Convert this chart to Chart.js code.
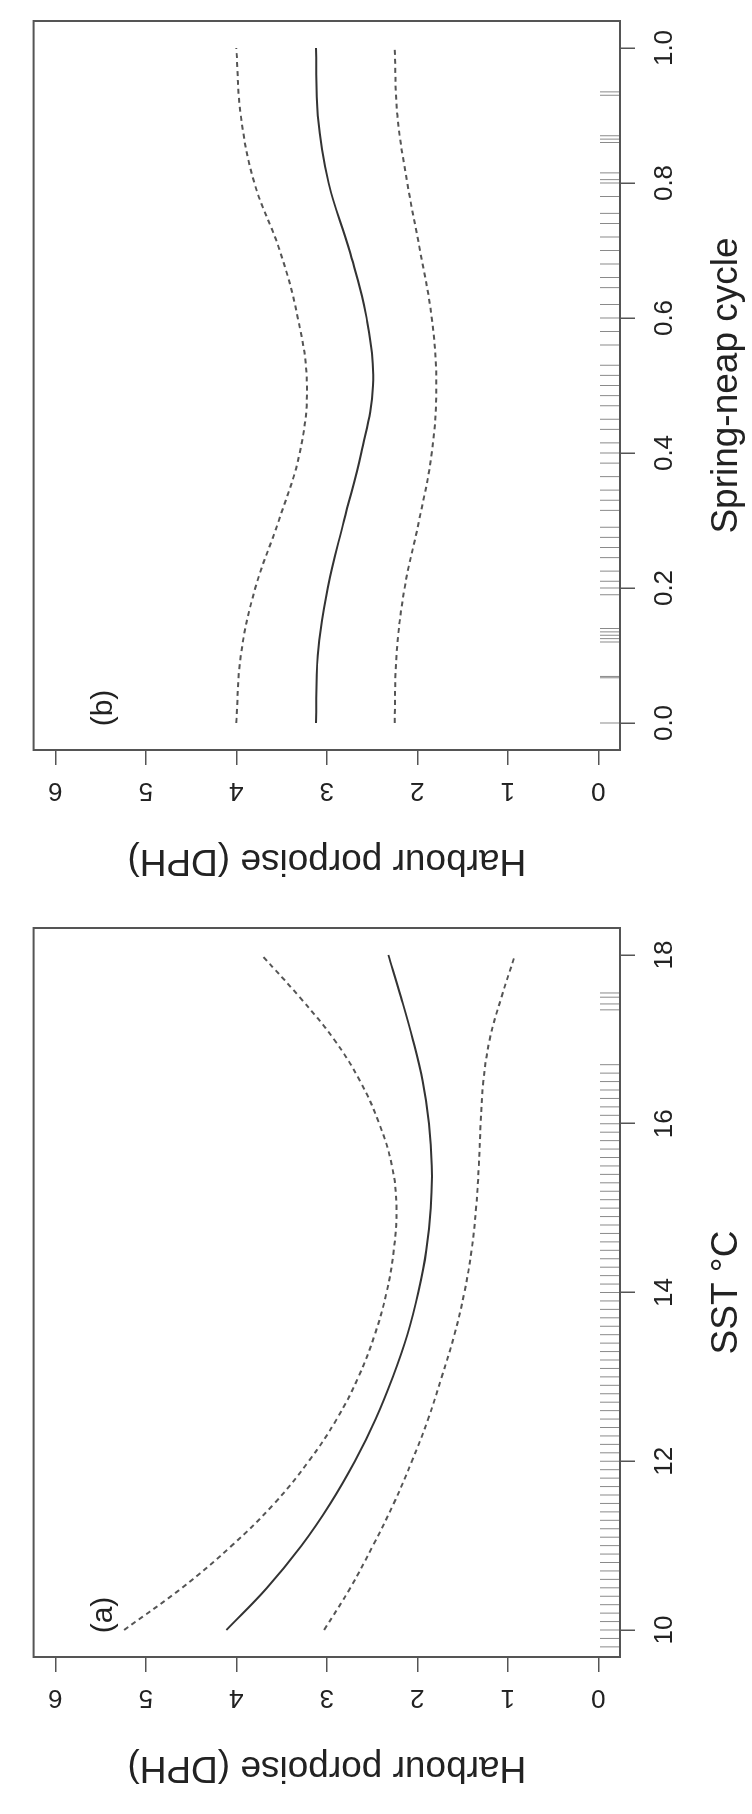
<!DOCTYPE html>
<html>
<head>
<meta charset="utf-8">
<script src="https://cdn.jsdelivr.net/npm/chart.js@4.4.1/dist/chart.umd.min.js"></script>
<style>
    html, body { margin: 0; padding: 0; background: #fff; overflow: hidden; }
    #figure {
        position: absolute; left: 0; top: 0;
        width: 1814px; height: 752px;
        transform-origin: 0 0;
        transform: translate(0, 1814px) rotate(-90deg);
    }
    #figure canvas { position: absolute; top: 0; }
</style>
</head>
<body>
<div id="figure">
    <canvas id="panelA" width="907" height="752" style="left:0"></canvas>
    <canvas id="panelB" width="907" height="752" style="left:907px"></canvas>
</div>
<script>
// panel (a): SST
const sstValues = [10, 10.5, 11, 11.5, 12, 12.5, 13, 13.5, 14, 14.5, 15, 15.5, 16, 16.5, 17, 17.5, 18];
const sstFit    = [4.11, 3.66, 3.28, 2.96, 2.69, 2.46, 2.27, 2.11, 1.99, 1.90, 1.85, 1.84, 1.87, 1.94, 2.05, 2.18, 2.32];
const sstUpper  = [5.24, 4.60, 4.05, 3.58, 3.20, 2.89, 2.65, 2.47, 2.34, 2.26, 2.23, 2.28, 2.42, 2.63, 2.92, 3.30, 3.72];
const sstLower  = [3.03, 2.74, 2.49, 2.26, 2.06, 1.88, 1.73, 1.59, 1.48, 1.40, 1.35, 1.32, 1.30, 1.27, 1.20, 1.07, 0.92];
const sstRug = [9.8, 9.9, 10.0, 10.1, 10.2, 10.3, 10.4, 10.5, 10.6, 10.7, 10.8, 10.9, 11.0, 11.1, 11.2, 11.3,
    11.4, 11.5, 11.6, 11.7, 11.8, 11.9, 12.0, 12.1, 12.2, 12.3, 12.4, 12.5, 12.6, 12.7, 12.8, 12.9, 13.0,
    13.1, 13.2, 13.3, 13.4, 13.5, 13.6, 13.7, 13.8, 13.9, 14.0, 14.1, 14.2, 14.3, 14.4, 14.5, 14.6, 14.7,
    14.8, 14.9, 15.0, 15.1, 15.2, 15.3, 15.4, 15.5, 15.6, 15.7, 15.8, 15.9, 16.0, 16.1, 16.2, 16.3, 16.4,
    16.5, 16.6, 16.7, 17.35, 17.42, 17.5, 17.55];
const sstTicks = [10, 12, 14, 16, 18];
const sstTickLabels = ['10', '12', '14', '16', '18'];

// panel (b): spring-neap cycle
const cycleValues = [0, 0.1, 0.2, 0.3, 0.4, 0.5, 0.6, 0.7, 0.8, 0.9, 1.0];
const cycleFit    = [3.12, 3.10, 2.99, 2.81, 2.62, 2.49, 2.56, 2.75, 2.98, 3.10, 3.12];
const cycleUpper  = [4.00, 3.95, 3.79, 3.53, 3.30, 3.22, 3.32, 3.52, 3.80, 3.95, 4.00];
const cycleLower  = [2.25, 2.23, 2.14, 1.98, 1.84, 1.79, 1.84, 1.97, 2.11, 2.22, 2.25];
const cycleRug = [0.0, 0.067, 0.069, 0.12, 0.125, 0.13, 0.135, 0.14, 0.19, 0.2, 0.21, 0.225, 0.245, 0.26,
    0.275, 0.29, 0.315, 0.33, 0.345, 0.365, 0.385, 0.4, 0.415, 0.435, 0.45, 0.47, 0.485, 0.5, 0.515,
    0.53, 0.56, 0.58, 0.6, 0.62, 0.645, 0.66, 0.68, 0.7, 0.72, 0.74, 0.755, 0.78, 0.8, 0.805, 0.815,
    0.86, 0.865, 0.87, 0.93, 0.935];
const cycleTicks = [0, 0.2, 0.4, 0.6, 0.8, 1.0];
const cycleTickLabels = ['0.0', '0.2', '0.4', '0.6', '0.8', '1.0'];

// shared y axis
const dphTicks = [0, 1, 2, 3, 4, 5, 6];
const dphTickLabels = ['0', '1', '2', '3', '4', '5', '6'];
const dphRange = [-0.24, 6.24];

const FONT = '"Liberation Sans", Arial, Helvetica, sans-serif';
const INK = '#222';

const framePlugin = {
    id: 'frame',
    afterDraw(chart, args, opts) {
        const ctx = chart.ctx, a = chart.chartArea;
        ctx.save();
        ctx.strokeStyle = '#555';
        ctx.lineWidth = 2;
        ctx.strokeRect(a.left, a.top, a.right - a.left, a.bottom - a.top);
        ctx.fillStyle = INK;
        ctx.font = '30px ' + FONT;
        ctx.textAlign = 'center';
        ctx.textBaseline = 'middle';
        ctx.fillText(opts.label, a.left + 42, a.top + 70);
        ctx.restore();
    }
};

function pts(xs, ys) {
    return xs.map(function (x, i) { return {x: x, y: ys[i]}; });
}

function buildPanel(id, opt) {
    const curve = {showLine: true, pointRadius: 0, tension: 0.4, borderWidth: 2, fill: false};
    new Chart(document.getElementById(id), {
        type: 'line',
        data: {
            datasets: [
                Object.assign({data: pts(opt.xs, opt.upper), borderColor: '#555', borderDash: [5, 4]}, curve),
                Object.assign({data: pts(opt.xs, opt.fit), borderColor: '#333'}, curve),
                Object.assign({data: pts(opt.xs, opt.lower), borderColor: '#555', borderDash: [5, 4]}, curve),
                {
                    data: opt.rug.map(function (v) { return {x: v, y: dphRange[0]}; }),
                    showLine: false, pointStyle: 'line', pointRotation: 90,
                    pointRadius: 20, pointBorderWidth: 1, pointBorderColor: '#8a8a8a',
                    clip: 0
                }
            ]
        },
        options: {
            responsive: false,
            animation: false,
            events: [],
            layout: {padding: {top: 15, right: 3, left: 0, bottom: 0}},
            plugins: {legend: {display: false}, tooltip: {enabled: false}, frame: {label: opt.label}},
            scales: {
                x: {
                    type: 'linear',
                    min: opt.range[0], max: opt.range[1],
                    afterBuildTicks: function (s) { s.ticks = opt.ticks.map(function (v) { return {value: v}; }); },
                    afterFit: function (s) { s.height = 132; },
                    border: {display: false},
                    grid: {drawOnChartArea: false, drawTicks: true, tickLength: 15, color: '#555', lineWidth: 1.5},
                    ticks: {
                        color: INK, font: {family: FONT, size: 26}, padding: 14,
                        minRotation: 0, maxRotation: 0, autoSkip: false,
                        callback: function (v, i) { return opt.tickLabels[i]; }
                    },
                    title: {display: true, text: opt.title, color: INK, font: {family: FONT, size: 37}, padding: {top: 0, bottom: 3}}
                },
                y: {
                    min: dphRange[0], max: dphRange[1],
                    afterBuildTicks: function (s) { s.ticks = dphTicks.map(function (v) { return {value: v}; }); },
                    afterFit: function (s) { s.width = 157; },
                    border: {display: false},
                    grid: {drawOnChartArea: false, drawTicks: true, tickLength: 15, color: '#555', lineWidth: 1.5},
                    ticks: {
                        color: INK, font: {family: FONT, size: 26}, padding: 18,
                        minRotation: 90, maxRotation: 90, crossAlign: 'center', autoSkip: false,
                        callback: function (v, i) { return dphTickLabels[i]; }
                    },
                    title: {display: true, text: 'Harbour porpoise (DPH)', color: INK, font: {family: FONT, size: 37}, padding: {top: 25, bottom: 0}}
                }
            }
        },
        plugins: [framePlugin]
    });
}

buildPanel('panelA', {
    xs: sstValues, fit: sstFit, upper: sstUpper, lower: sstLower, rug: sstRug,
    range: [9.68, 18.32], ticks: sstTicks, tickLabels: sstTickLabels,
    title: 'SST °C', label: '(a)'
});
buildPanel('panelB', {
    xs: cycleValues, fit: cycleFit, upper: cycleUpper, lower: cycleLower, rug: cycleRug,
    range: [-0.04, 1.04], ticks: cycleTicks, tickLabels: cycleTickLabels,
    title: 'Spring-neap cycle', label: '(b)'
});
</script>
</body>
</html>
